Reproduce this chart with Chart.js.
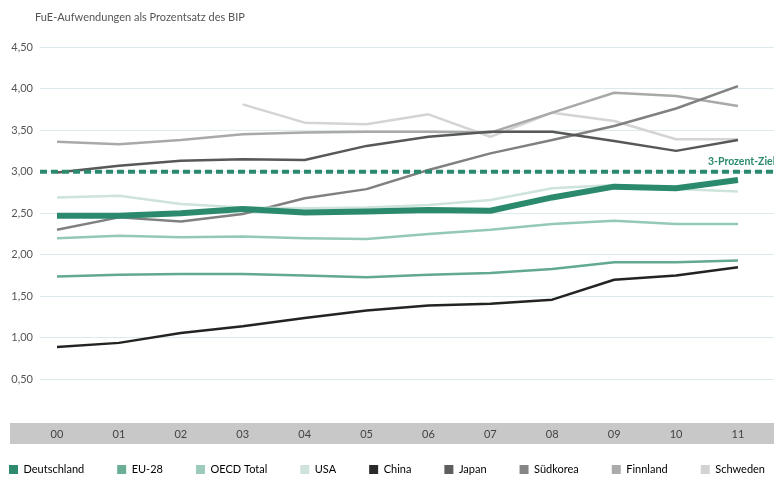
<!DOCTYPE html>
<html>
<head>
<meta charset="utf-8">
<script src="https://cdn.jsdelivr.net/npm/chart.js@4/dist/chart.umd.min.js"></script>
<style>
  html, body { margin: 0; padding: 0; background: #fff; }
  #wrap { width: 774px; height: 478px; }
</style>
</head>
<body>
<div id="wrap"><canvas id="chart" width="774" height="478"></canvas></div>
<script>
// Jahre (2000–2011)
const years = ['00', '01', '02', '03', '04', '05', '06', '07', '08', '09', '10', '11'];

// FuE-Aufwendungen in % des BIP
const deutschland = [2.47, 2.47, 2.50, 2.55, 2.51, 2.52, 2.54, 2.53, 2.69, 2.82, 2.80, 2.90];
const eu28        = [1.74, 1.76, 1.77, 1.77, 1.75, 1.73, 1.76, 1.78, 1.83, 1.91, 1.91, 1.93];
const oecdTotal   = [2.20, 2.23, 2.21, 2.22, 2.20, 2.19, 2.25, 2.30, 2.37, 2.41, 2.37, 2.37];
const usa         = [2.69, 2.71, 2.61, 2.57, 2.56, 2.57, 2.60, 2.66, 2.80, 2.84, 2.79, 2.76];
const china       = [0.89, 0.94, 1.06, 1.14, 1.24, 1.33, 1.39, 1.41, 1.46, 1.70, 1.75, 1.85];
const japan       = [2.99, 3.07, 3.13, 3.15, 3.14, 3.31, 3.42, 3.48, 3.48, 3.37, 3.25, 3.38];
const suedkorea   = [2.30, 2.45, 2.40, 2.49, 2.68, 2.79, 3.02, 3.22, 3.38, 3.55, 3.76, 4.03];
const finnland    = [3.36, 3.33, 3.38, 3.45, 3.47, 3.48, 3.48, 3.47, 3.71, 3.95, 3.91, 3.79];
const schweden    = [null, null, null, 3.81, 3.59, 3.57, 3.69, 3.42, 3.71, 3.61, 3.39, 3.39];

// Zielmarke
const zielWert = 3.0;
const zielLabel = '3-Prozent-Ziel';

// Achsenbeschriftung
const yTicks = [0.5, 1.0, 1.5, 2.0, 2.5, 3.0, 3.5, 4.0, 4.5];
const titel = 'FuE-Aufwendungen als Prozentsatz des BIP';

const FONT = 'Lato, "Open Sans", sans-serif';
const GREEN = '#2b8a6e';

// the legend row is wider than the canvas allows, so the layout reaches
// a little past both edges; the y axis width makes up for it on the left
const SIDE = 40;
// the legend spacing also sets its top gap, so it is lifted after layout
const LEGEND_LIFT = 16;

const series = [
  { label: 'Deutschland', data: deutschland, color: GREEN,     swatch: '#2f8b70', width: 6 },
  { label: 'EU-28',       data: eu28,        color: '#62a991', swatch: '#6aae96', width: 2.5 },
  { label: 'OECD Total',  data: oecdTotal,   color: '#93c9b6', swatch: '#9ccbbb', width: 2.5 },
  { label: 'USA',         data: usa,         color: '#cde3dc', swatch: '#cfe3dc', width: 2.5 },
  { label: 'China',       data: china,       color: '#232323', swatch: '#2a2a2a', width: 2.5 },
  { label: 'Japan',       data: japan,       color: '#585858', swatch: '#5e5e5e', width: 2.5 },
  { label: 'Südkorea',    data: suedkorea,   color: '#808080', swatch: '#868686', width: 2.5 },
  { label: 'Finnland',    data: finnland,    color: '#a9a9a9', swatch: '#ababab', width: 2.5 },
  { label: 'Schweden',    data: schweden,    color: '#d4d4d4', swatch: '#d3d3d3', width: 2.5 }
];

const datasets = series.map(s => ({
  label: s.label,
  data: s.data.map((v, i) => ({ x: i, y: v })),
  borderColor: s.color,
  backgroundColor: s.swatch,
  borderWidth: s.width,
  pointRadius: 0,
  tension: 0,
  borderJoinStyle: 'round',
  spanGaps: false
}));

// grauer Balken hinter den Jahreszahlen
const yearBand = {
  id: 'yearBand',
  beforeDraw(chart) {
    const { ctx, chartArea } = chart;
    ctx.save();
    ctx.fillStyle = '#c8c8c8';
    ctx.fillRect(10, chartArea.bottom + 2, chart.width - 10, 21);
    ctx.restore();
  }
};

// Legende etwas näher an die Achse rücken
const legendLift = {
  id: 'legendLift',
  afterLayout(chart) {
    const lg = chart.legend;
    if (lg) {
      lg.top -= LEGEND_LIFT;
      lg.bottom -= LEGEND_LIFT;
    }
  }
};

// Titel oben links
const titlePlugin = {
  id: 'titleText',
  afterDraw(chart) {
    const { ctx } = chart;
    ctx.save();
    ctx.font = '11px ' + FONT;
    ctx.fillStyle = '#555';
    ctx.textBaseline = 'middle';
    ctx.textAlign = 'left';
    ctx.fillText(titel, 35, 17);
    ctx.restore();
  }
};

// gestrichelte Ziellinie mit Beschriftung
const targetLine = {
  id: 'targetLine',
  afterDatasetsDraw(chart) {
    const { ctx, chartArea, scales } = chart;
    const y = scales.y.getPixelForValue(zielWert);
    ctx.save();
    ctx.strokeStyle = GREEN;
    ctx.lineWidth = 4;
    ctx.setLineDash([7, 4]);
    ctx.beginPath();
    ctx.moveTo(chartArea.left, y);
    ctx.lineTo(chart.width, y);
    ctx.stroke();
    ctx.setLineDash([]);
    ctx.font = 'bold 10.5px ' + FONT;
    ctx.fillStyle = GREEN;
    ctx.textAlign = 'left';
    ctx.textBaseline = 'middle';
    ctx.fillText(zielLabel, 708, y - 10);
    ctx.restore();
  }
};

new Chart(document.getElementById('chart'), {
  type: 'line',
  data: { datasets },
  plugins: [yearBand, legendLift, targetLine, titlePlugin],
  options: {
    responsive: false,
    animation: false,
    layout: { padding: { top: 47, left: -SIDE, right: -SIDE, bottom: -(7 + LEGEND_LIFT) } },
    scales: {
      x: {
        type: 'linear',
        min: -0.2746,
        max: 11.582,
        afterBuildTicks(axis) { axis.ticks = years.map((_, i) => ({ value: i })); },
        afterFit(axis) {
          axis.height = 10 + LEGEND_LIFT;
          axis.paddingLeft = 0;
          axis.paddingRight = 0;
        },
        grid: { display: false, drawTicks: false },
        border: { display: false },
        ticks: {
          padding: 6.4,
          maxRotation: 0,
          autoSkip: false,
          color: '#444',
          font: { family: FONT, size: 11 },
          callback: v => years[v]
        }
      },
      y: {
        min: 0,
        max: 4.5,
        afterBuildTicks(axis) { axis.ticks = yTicks.map(v => ({ value: v })); },
        afterFit(axis) { axis.width = 40 + SIDE; },
        grid: { color: '#dde9ec', lineWidth: 1, drawTicks: false },
        border: { display: false },
        ticks: {
          padding: 7,
          color: '#555',
          font: { family: FONT, size: 11 },
          callback: v => v.toFixed(2).replace('.', ',')
        }
      }
    },
    plugins: {
      legend: {
        position: 'bottom',
        align: 'center',
        labels: {
          boxWidth: 9,
          boxHeight: 9,
          padding: 33,
          color: '#444',
          font: { family: FONT, size: 11 },
          generateLabels(chart) {
            return chart.data.datasets.map((ds, i) => ({
              text: ds.label,
              fillStyle: ds.backgroundColor,
              strokeStyle: ds.backgroundColor,
              lineWidth: 0,
              hidden: false,
              datasetIndex: i
            }));
          }
        }
      },
      title: { display: false },
      tooltip: { enabled: false }
    }
  }
});
</script>
</body>
</html>
